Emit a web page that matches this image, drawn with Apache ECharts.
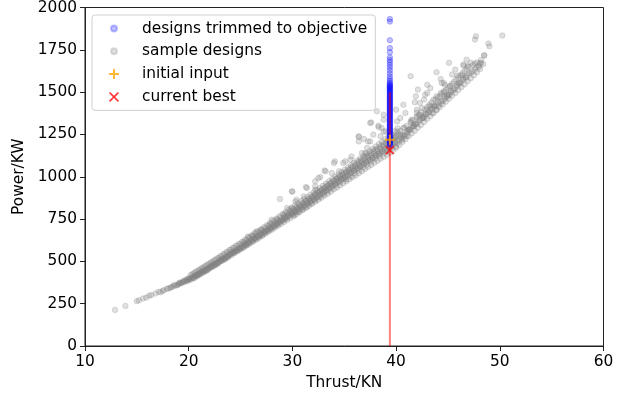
<!DOCTYPE html>
<html>
<head>
<meta charset="utf-8">
<script src="https://cdn.jsdelivr.net/npm/echarts@6/dist/echarts.min.js"></script>
<style>
html,body{margin:0;padding:0;background:#fff;}
#chart{width:627px;height:398px;}
</style>
</head>
<body>
<div id="chart"></div>
<script>
// ---------- data ----------
const xTicks = [10, 20, 30, 40, 50, 60];
const yTicks = [0, 250, 500, 750, 1000, 1250, 1500, 1750, 2000];

const seriesNames = ['designs trimmed to objective', 'sample designs', 'initial input', 'current best'];

// sample designs: [thrust (KN), power (KW)] — core of the cloud and the scattered designs
const sampleDesigns = [
[12.9,213],[13.9,237],[15.0,265],[15.2,270],[15.6,281],[15.9,286],[16.2,297],[16.4,301],[16.8,310],[17.1,320],
[17.3,318],[17.6,330],[17.9,338],[18.2,342],[18.4,350],[18.6,354],[18.9,360],[19.1,368],[19.3,371],[19.5,380],
[19.6,378],[19.8,386],[20.0,392],[20.1,398],[20.3,402],
[17.5,326],[18.0,340],[18.3,347],[18.8,358],[19.0,364],[19.2,373],[19.4,376],[19.7,389],[19.9,384],[20.0,402],
[18.6,362],[19.1,375],[19.5,385],[19.8,395],
[20.4,408],[20.5,400],[20.6,415],[20.7,410],[20.8,420],[20.9,418],[21.0,425],[21.1,432],[21.2,428],[21.3,440],
[21.4,436],[21.5,446],[21.6,442],[21.7,452],[21.8,448],[21.9,458],[22.0,462],[22.1,470],[22.2,466],[22.3,478],
[22.4,472],[22.5,483],[22.6,478],[22.7,490],[22.8,486],[22.9,497],[23.0,500],[23.1,510],[23.2,505],[23.3,516],
[23.4,510],[23.5,522],[23.6,518],[23.7,530],[23.8,528],[23.9,538],[24.0,540],[24.1,550],[24.2,546],[24.3,556],
[24.4,552],[24.5,562],[24.6,560],[24.7,570],[24.8,566],[24.9,578],[25.0,575],
[25.1,585],[25.2,580],[25.3,596],[25.4,590],[25.5,600],[25.6,596],[25.7,610],[25.8,605],[25.9,618],[26.0,625],
[26.1,615],[26.2,632],[26.3,628],[26.4,640],[26.5,634],[26.6,648],[26.7,642],[26.8,655],[26.9,650],[27.0,662],
[27.1,656],[27.2,672],[27.3,666],[27.4,680],[27.5,675],[27.6,688],[27.7,682],[27.8,696],[27.9,690],[28.0,705],
[28.1,698],[28.2,715],[28.3,708],[28.4,722],[28.5,715],[28.6,730],[28.7,724],[28.8,740],[28.9,735],[29.0,748],
[29.1,742],[29.2,758],[29.3,750],[29.4,765],[29.5,758],[29.6,775],[29.7,768],[29.8,785],[29.9,778],[30.0,795],
[25.4,612],[26.2,650],[27.0,685],[27.8,715],[28.5,745],[29.2,780],[29.9,812],
[25.7,647],[26.5,676],[28.0,746],[28.8,868],[29.5,815],[29.95,913],[30.4,864],[30.3,854],
[30.1,780],[30.2,800],[30.3,790],[30.4,812],[30.5,798],[30.6,820],[30.7,806],[30.8,830],[30.9,815],[31.0,840],
[31.1,822],[31.2,848],[31.3,832],[31.4,856],[31.5,840],[31.6,865],[31.7,850],[31.8,875],[31.9,858],[32.0,885],
[32.1,868],[32.2,895],[32.3,876],[32.4,905],[32.5,886],[32.6,914],[32.7,895],[32.8,922],[32.9,902],[33.0,930],
[33.1,912],[33.2,940],[33.3,920],[33.4,950],[33.5,930],[33.6,958],[33.7,940],[33.8,968],[33.9,948],[34.0,978],
[34.1,958],[34.2,988],[34.3,966],[34.4,995],[34.5,975],[34.6,1005],[34.7,985],[34.8,1015],[34.9,992],[35.0,1022],
[30.2,772],[30.6,790],[31.0,806],[31.4,822],[31.8,842],[32.2,860],[32.6,878],[33.0,896],[33.4,914],[33.8,932],
[34.2,950],[34.6,968],[35.0,985],
[31.1,884],[30.0,913],[31.4,933],[32.2,923],[32.2,973],[32.2,943],[32.7,998],[33.1,1037],[33.2,1032],[33.8,1022],
[34.5,1032],[34.0,1081],[34.1,1091],[34.9,1081],[31.3,939],[32.5,992],
[35.1,1000],[35.2,1030],[35.3,1010],[35.4,1040],[35.5,1018],[35.6,1050],[35.7,1028],[35.8,1060],[35.9,1036],[36.0,1068],
[36.1,1045],[36.2,1078],[36.3,1052],[36.4,1088],[36.5,1060],[36.6,1096],[36.7,1068],[36.8,1105],[36.9,1078],[37.0,1115],
[37.1,1085],[37.2,1122],[37.3,1094],[37.4,1132],[37.5,1102],[37.6,1140],[37.7,1110],[37.8,1150],[37.9,1118],[38.0,1158],
[38.1,1126],[38.2,1166],[38.3,1134],[38.4,1175],[38.5,1142],[38.6,1184],[38.7,1150],[38.8,1192],[38.9,1158],[39.0,1200],
[39.1,1166],[39.2,1210],[39.3,1172],[39.5,1182],[39.6,1224],[39.7,1190],[39.8,1235],[39.9,1198],[40.0,1245],
[35.2,985],[35.6,1002],[36.0,1020],[36.4,1038],[36.8,1055],[37.2,1072],[37.6,1090],[38.0,1108],[38.4,1125],[38.8,1140],
[39.2,1150],[39.6,1168],[40.0,1180],
[35.1,1091],[35.6,1101],[35.7,1120],[36.4,1209],[36.4,1235],[36.7,1140],[36.9,1223],[37.0,1140],[37.2,1170],[37.3,1209],
[37.5,1209],[37.5,1318],[37.6,1321],[37.8,1249],[38.15,1387],[38.3,1294],[38.3,1302],[38.5,1239],[38.6,1288],[38.8,1268],
[38.8,1337],[38.8,1367],[39.0,1268],[36.4,1239],
[40.1,1200],[40.2,1255],[40.3,1215],[40.4,1270],[40.5,1225],[40.6,1250],[40.7,1238],[40.8,1290],[40.9,1250],[41.0,1300],
[41.1,1262],[41.2,1278],[41.3,1275],[41.4,1320],[41.5,1290],[41.6,1335],[41.7,1298],[41.8,1312],[41.9,1310],[42.0,1350],
[42.1,1322],[42.2,1365],[42.3,1335],[42.4,1380],[42.5,1345],[42.6,1362],[42.7,1355],[42.8,1398],[42.9,1368],[43.0,1412],
[43.1,1380],[43.2,1425],[43.3,1392],[43.4,1438],[43.5,1402],[43.6,1420],[43.7,1415],[43.8,1455],[43.9,1425],[44.0,1465],
[40.0,1396],[40.4,1347],[40.1,1327],[40.7,1426],[40.7,1288],[41.2,1278],[41.7,1298],[40.4,1249],[39.9,1229],[40.6,1219],
[41.0,1239],[40.1,1268],[40.9,1377],[41.4,1327],[41.4,1594],[41.9,1475],[41.8,1440],[42.3,1436],[42.5,1406],[42.0,1396],
[42.3,1367],[42.0,1357],[42.7,1347],[42.7,1456],[43.0,1544],[43.3,1524],[43.0,1495],[42.8,1485],[43.0,1396],[43.3,1416],
[43.5,1377],[43.9,1396],[43.6,1456],[43.9,1475],[43.9,1617],[42.1,1515],[41.5,1337],[42.0,1379],
[44.1,1420],[44.2,1475],[44.3,1435],[44.4,1488],[44.5,1448],[44.6,1500],[44.7,1460],[44.8,1512],[44.9,1472],[45.0,1525],
[45.1,1485],[45.2,1538],[45.3,1498],[45.4,1550],[45.5,1510],[45.6,1562],[45.7,1522],[45.8,1575],[45.9,1535],[46.0,1588],
[46.1,1550],[46.2,1600],[46.3,1562],[46.4,1612],[46.5,1575],[46.6,1625],[46.7,1588],[46.8,1638],[46.9,1600],[47.0,1650],
[47.2,1615],[47.4,1660],[47.6,1632],[47.8,1675],[48.0,1650],[48.2,1690],[48.4,1665],
[44.3,1578],[44.4,1554],[44.7,1544],[44.3,1495],[44.6,1505],[45.1,1485],[45.1,1673],[45.4,1604],[46.4,1598],[46.0,1554],
[45.9,1598],[46.8,1692],[46.5,1657],[46.9,1653],[47.2,1673],[47.6,1669],[48.1,1669],[48.5,1716],[44.9,1475],[45.7,1633],
[46.5,1663],[44.6,1554],[45.2,1534],[48.9,1787],[49.0,1771],[47.7,1830],[47.6,1811],[50.25,1834],[48.2,1673],[48.5,1718]
];

// sample designs along the lower edge of the band
const sampleLowerEdge = [
[20.2,392],[20.5,402],[20.8,412],[21.1,423],[21.4,434],[21.7,445],[22.0,457],[22.3,468],[22.6,480],[22.9,492],
[23.2,503],[23.5,514],[23.8,525],[24.1,536],[24.4,548],[24.7,560],[25.0,571],[25.3,582],[25.6,594],[25.9,605],
[26.2,617],[26.5,628],[26.8,640],[27.1,651],[27.4,663],[27.7,675],[28.0,687],[28.3,698],[28.6,710],[28.9,721],
[29.2,733],[29.5,745],[29.8,757],[30.1,768],[30.4,780],[30.7,792],[31.0,804],[31.3,816],[31.6,828],[31.9,840],
[32.2,852],[32.5,864],[32.8,876],[33.1,888],[33.4,900],[33.7,912],[34.0,925],[34.3,937],[34.6,949],[34.9,961],
[35.2,973],[35.5,985],[35.8,997],[36.1,1009],[36.4,1021],[36.7,1033],[37.0,1046],[37.3,1058],[37.6,1070],[37.9,1082],
[38.2,1094],[38.5,1106],[38.8,1118],[39.1,1130],[39.4,1142],[39.7,1156],[40.0,1172],[40.3,1188],[40.6,1205],[40.9,1222],
[41.2,1240],[41.5,1256],[41.8,1272],[42.1,1290],[42.4,1306],[42.7,1324],[43.0,1342],[43.3,1358],[43.6,1375],[43.9,1393],
[44.2,1410],[44.5,1427],[44.8,1444],[45.1,1461],[45.4,1478],[45.7,1495],[46.0,1513],[46.3,1530],[46.6,1547],[46.9,1565],
[47.2,1582],[47.5,1600],[47.8,1618],[48.1,1636]
];

// sample designs along the upper edge of the dense band
const sampleUpperEdge = [
[20.35,425],[20.65,437],[20.95,448],[21.25,460],[21.55,471],[21.85,483],[22.15,495],[22.45,507],[22.75,519],[23.05,531],
[23.35,543],[23.65,556],[23.95,568],[24.25,580],[24.55,592],[24.85,604],[25.15,616],[25.45,629],[25.75,641],[26.05,654],
[26.35,666],[26.65,678],[26.95,690],[27.25,702],[27.55,715],[27.85,728],[28.15,740],[28.45,753],[28.75,766],[29.05,779],
[29.35,792],[29.65,805],[29.95,818],[30.25,830],[30.55,843],[30.85,856],[31.15,868],[31.45,881],[31.75,894],[32.05,907],
[32.35,920],[32.65,933],[32.95,947],[33.25,960],[33.55,974],[33.85,987],[34.15,1001],[34.45,1014],[34.75,1028],[35.05,1041],
[35.35,1055],[35.65,1068],[35.95,1082],[36.25,1095],[36.55,1109],[36.85,1123],[37.15,1137],[37.45,1151],[37.75,1165],[38.05,1179],
[38.35,1193],[38.65,1207],[38.95,1222],[39.25,1237],[39.55,1253],[39.85,1269],[40.15,1286]
];

// sample designs in the middle of the band
const sampleMidLow = [
[20.05,394],[20.35,405],[20.65,416],[20.95,427],[21.25,438],[21.55,449],[21.85,460],[22.15,472],[22.45,483],[22.75,494],
[23.05,506],[23.35,517],[23.65,529],[23.95,542],[24.25,554],[24.55,565],[24.85,577],[25.15,589],[25.45,601],[25.75,613],
[26.05,625],[26.35,637],[26.65,648],[26.95,660],[27.25,672],[27.55,684],[27.85,696],[28.15,708],[28.45,720],[28.75,733],
[29.05,745],[29.35,758],[29.65,770],[29.95,783],[30.25,795],[30.55,808],[30.85,820],[31.15,832],[31.45,844],[31.75,857],
[32.05,869],[32.35,882],[32.65,894],[32.95,907],[33.25,920],[33.55,933],[33.85,946],[34.15,958],[34.45,971],[34.75,984],
[35.05,996],[35.35,1009],[35.65,1022],[35.95,1035],[36.25,1048],[36.55,1061],[36.85,1074],[37.15,1086],[37.45,1099],[37.75,1112],
[38.05,1125],[38.35,1138],[38.65,1151],[38.95,1165],[39.25,1178],[39.55,1191],[39.85,1204],
[40.15,1215],[40.45,1236],[40.75,1243],[41.05,1269],[41.35,1280],[41.65,1304],[41.95,1311],[42.25,1336],[42.55,1347],[42.85,1373],
[43.15,1380],[43.45,1405],[43.75,1416],[44.05,1442],[44.35,1449],[44.65,1474],[44.95,1484],[45.25,1509],[45.55,1517],[45.85,1542],
[46.15,1554],[46.45,1579],[46.75,1586],[47.05,1612],[47.35,1623],[47.65,1644],[47.95,1657]
];
const sampleMidHigh = [
[20.2,419],[20.5,430],[20.8,442],[21.1,453],[21.4,464],[21.7,476],[22.0,486],[22.3,497],[22.6,509],[22.9,520],
[23.2,532],[23.5,544],[23.8,556],[24.1,568],[24.4,580],[24.7,592],[25.0,603],[25.3,615],[25.6,627],[25.9,639],
[26.2,651],[26.5,663],[26.8,674],[27.1,686],[27.4,698],[27.7,710],[28.0,722],[28.3,734],[28.6,747],[28.9,759],
[29.2,771],[29.5,784],[29.8,797],[30.1,809],[30.4,821],[30.7,834],[31.0,846],[31.3,858],[31.6,871],[31.9,883],
[32.2,895],[32.5,908],[32.8,921],[33.1,933],[33.4,946],[33.7,959],[34.0,972],[34.3,985],[34.6,997],[34.9,1010],
[35.2,1023],[35.5,1036],[35.8,1048],[36.1,1061],[36.4,1074],[36.7,1087],[37.0,1100],[37.3,1113],[37.6,1126],[37.9,1139],
[38.2,1152],[38.5,1165],[38.8,1178],[39.1,1191],[39.4,1204],[39.7,1218],[40.0,1237]
];

// designs trimmed to objective: all at the objective thrust
const trimmedThrust = 39.4;
const trimmedPower = [
1932,1917,1807,1760,1736,1705,1690,1676,1660,1645,1628,1610,1592,1578,1565,1555,1548,
1542,1537,1531,1528,1522,1516,1511,1507,1500,1496,1490,1484,1479,1473,1470,1463,1458,1452,
1447,1441,1437,1430,1426,1420,1415,1409,1404,1398,1393,1388,1382,1376,1371,1366,1360,1355,
1349,1344,1338,1333,1327,1322,1316,1311,1305,1300,1294,1289,1283,1278,1272,1267,1261,1256,
1250,1245,1240,1234,1229,1224,1218,1213,1207,1202,1196,1191,1186
];

// objective thrust line (from 0 up to its top)
const objectiveLine = [[39.4, 0], [39.4, 1500]];
const initialInput = [[39.4, 1219]];
const currentBest = [[39.4, 1157]];

// ---------- chart ----------
const FONT = 'DejaVu Sans';
const FS = 15.4;
const PLUS = 'path://M4,0H6V4H10V6H6V10H4V6H0V4H4Z';
const CROSS = 'path://M0,1.2L1.2,0L5,3.8L8.8,0L10,1.2L6.2,5L10,8.8L8.8,10L5,6.2L1.2,10L0,8.8L3.8,5Z';
const DOT = 'path://M0,0M10,10M2,5A3,3,0,1,0,8,5A3,3,0,1,0,2,5Z';

const chart = echarts.init(document.getElementById('chart'), null, {renderer: 'canvas'});

const grayStyle = {color: 'rgba(128,128,128,0.3)', borderColor: 'rgba(128,128,128,0.3)', borderWidth: 1};

const option = {
  animation: false,
  backgroundColor: '#fff',
  grid: {left: 85, right: 23.5, top: 7.5, bottom: 52, show: true, borderColor: '#222', borderWidth: 1, backgroundColor: 'transparent'},
  xAxis: {
    type: 'value', min: xTicks[0], max: xTicks[xTicks.length - 1], interval: 10,
    name: 'Thrust/KN', nameLocation: 'middle', nameGap: 29,
    nameTextStyle: {fontFamily: FONT, fontSize: FS, color: '#000'},
    axisLine: {lineStyle: {color: '#222', width: 1}},
    axisTick: {show: true, length: 5, lineStyle: {color: '#222'}},
    axisLabel: {fontFamily: FONT, fontSize: FS, color: '#000', margin: 8, formatter: v => String(v)},
    splitLine: {show: false}
  },
  yAxis: {
    type: 'value', min: yTicks[0], max: yTicks[yTicks.length - 1], interval: 250,
    name: 'Power/KW', nameLocation: 'middle', nameGap: 52,
    nameTextStyle: {fontFamily: FONT, fontSize: FS, color: '#000'},
    axisLine: {show: true, lineStyle: {color: '#222', width: 1}},
    axisTick: {show: true, length: 5, lineStyle: {color: '#222'}},
    axisLabel: {fontFamily: FONT, fontSize: FS, color: '#000', margin: 8, formatter: v => String(v)},
    splitLine: {show: false}
  },
  legend: {
    orient: 'vertical', left: 92, top: 15,
    padding: [4.5, 8, 4.5, 16],
    itemWidth: 24, itemHeight: 10, itemGap: 4.8,
    backgroundColor: 'rgba(255,255,255,0.8)',
    borderColor: '#d0d0d0', borderWidth: 1, borderRadius: 3,
    textStyle: {fontFamily: FONT, fontSize: FS, color: '#000', lineHeight: 18, padding: [0, 0, 0, 11]},
    data: [
      {name: seriesNames[0], icon: DOT},
      {name: seriesNames[1], icon: DOT},
      {name: seriesNames[2]},
      {name: seriesNames[3]}
    ]
  },
  series: [
    {
      name: seriesNames[1], type: 'scatter', z: 2,
      symbol: 'circle', symbolSize: 5.5,
      itemStyle: grayStyle,
      emphasis: {disabled: true},
      data: sampleDesigns.concat(sampleLowerEdge, sampleUpperEdge, sampleMidLow, sampleMidHigh)
    },
    {
      name: seriesNames[0], type: 'scatter', z: 3,
      symbol: 'circle', symbolSize: 5.5,
      itemStyle: {color: 'rgba(0,0,255,0.3)', borderColor: 'rgba(0,0,255,0.3)', borderWidth: 1},
      emphasis: {disabled: true},
      data: trimmedPower.map(p => [trimmedThrust, p])
    },
    {
      name: 'objective', type: 'line', z: 4, symbol: 'none',
      lineStyle: {color: 'rgba(255,0,0,0.5)', width: 2},
      emphasis: {disabled: true},
      data: objectiveLine
    },
    {
      name: seriesNames[2], type: 'scatter', z: 5,
      symbol: PLUS, symbolSize: 10, symbolKeepAspect: true,
      itemStyle: {color: '#ffa500'},
      emphasis: {disabled: true},
      data: initialInput
    },
    {
      name: seriesNames[3], type: 'scatter', z: 6,
      symbol: CROSS, symbolSize: 9, symbolKeepAspect: true,
      itemStyle: {color: '#ff0000'},
      emphasis: {disabled: true},
      data: currentBest
    }
  ]
};
chart.setOption(option);
</script>
</body>
</html>
